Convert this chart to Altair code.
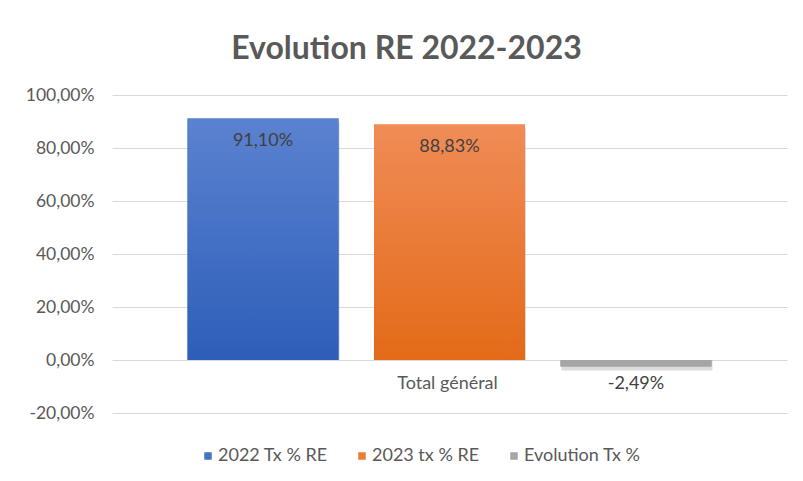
import altair as alt
import pandas as pd

categories = ["Total général"]
series = ["2022 Tx % RE", "2023 tx % RE", "Evolution Tx %"]
values = [91.10, 88.83, -2.49]
colors = ["#4472C4", "#ED7D31", "#A5A5A5"]
grad_top = ["#5B82D0", "#F08C57", "#A5A5A5"]
grad_bot = ["#2D5EB8", "#E36A18", "#A5A5A5"]
y_ticks = [-20, 0, 20, 40, 60, 80, 100]

df = pd.DataFrame({"series": series, "value": values, "category": categories * len(series)})

FONT = "Lato"
TXT = "#595959"
FMT = "replace(replace(format(datum.value,'.2f'),'.',','),'\u2212','-') + '%'"

xs = alt.X("series:N", sort=series, axis=None,
           scale=alt.Scale(paddingInner=0.19, paddingOuter=0.405, align=0.5))
ys = alt.Y("value:Q", scale=alt.Scale(domain=[-20, 100], nice=False, zero=False),
           axis=alt.Axis(values=y_ticks, title=None, domain=False, ticks=False,
                         labelExpr=FMT,
                         labelFont=FONT, labelFontSize=17.5, labelColor=TXT,
                         labelPadding=18, gridColor="#D9D9D9", gridWidth=1.2))

base = alt.Chart(df)

shadow = base.mark_bar(color="#BFBFBF", opacity=0.55, yOffset=4, xOffset=1).encode(
    x=xs, y=ys, y2=alt.datum(0))

legend_bars = base.mark_bar().encode(
    x=xs, y=ys, y2=alt.datum(0),
    color=alt.Color("series:N", sort=series,
                    scale=alt.Scale(domain=series, range=colors),
                    legend=alt.Legend(title=None, orient="none", direction="horizontal",
                                      legendX=87, legendY=352, symbolType="square",
                                      symbolSize=56, symbolStrokeWidth=0,
                                      labelFont=FONT, labelFontSize=18, labelColor=TXT,
                                      labelOffset=1, columnPadding=25, symbolOffset=0)))

grad_layers = []
for s, t, b in zip(series, grad_top, grad_bot):
    grad_layers.append(
        base.transform_filter(alt.datum.series == s).mark_bar(
            color=alt.Gradient(gradient="linear", x1=0, y1=0, x2=0, y2=1,
                               stops=[alt.GradientStop(color=t, offset=0),
                                      alt.GradientStop(color=b, offset=1)])
        ).encode(x=xs, y=ys, y2=alt.datum(0))
    )

lab = base.transform_calculate(lbl=FMT)

pos_text = lab.transform_filter(alt.datum.value >= 0).mark_text(
    font=FONT, fontSize=18, color="#404040", dy=22, baseline="middle").encode(
    x=xs, y=ys, text="lbl:N")
neg_text = lab.transform_filter(alt.datum.value < 0).mark_text(
    font=FONT, fontSize=18, color="#404040", dy=17, baseline="middle").encode(
    x=xs, y=ys, text="lbl:N")

cat_df = pd.DataFrame({"category": categories, "series": [series[1]], "zero": [0]})
cat_text = alt.Chart(cat_df).mark_text(
    font=FONT, fontSize=18, color=TXT, dy=24, dx=-2, baseline="middle").encode(
    x=xs, y=alt.Y("zero:Q"), text="category:N")

chart = alt.layer(shadow, legend_bars, *grad_layers, pos_text, neg_text, cat_text).properties(
    width=675, height=318,
    title=alt.TitleParams("Evolution RE 2022-2023", font=FONT, fontSize=32,
                          fontWeight="bold", color=TXT, offset=20, dx=-43, anchor="middle"),
    autosize=alt.AutoSizeParams(type="none"),
    padding={"left": 104, "top": 87, "right": 8, "bottom": 60},
).configure(background="white").configure_view(stroke=None)

chart.save("out.html", embed_options={"renderer": "svg", "actions": False})
